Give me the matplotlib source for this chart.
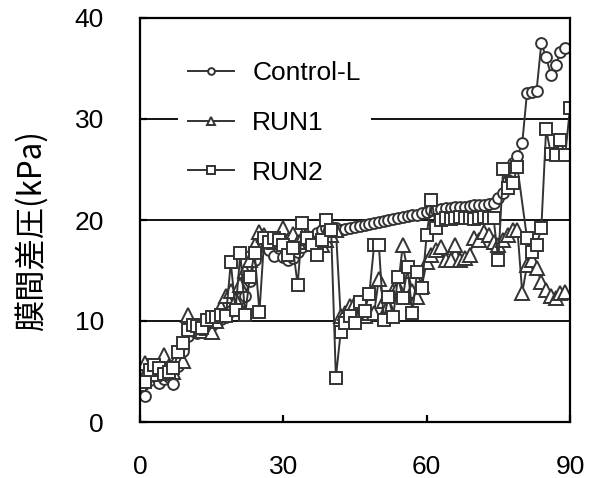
import matplotlib
matplotlib.use("Agg")
import matplotlib.pyplot as plt

plt.rcParams['font.family'] = ['Liberation Sans', 'Noto Sans CJK JP', 'DejaVu Sans']

# elapsed days and trans-membrane pressure (kPa)
control_day = list(range(0, 90))
control_kpa = [
    3.3, 2.6, 4.2, 4.6, 3.9, 4.3, 4.5, 3.8, 5.5, 7.0,
    8.5, 9.0, 8.8, 9.0, 9.4, 9.6, 10.0, 10.2, 10.4, 11.0,
    12.0, 12.3, 12.5, 14.0, 16.0, 17.5, 18.0, 17.0, 16.4, 17.2,
    16.3, 16.0, 16.2, 16.8, 17.3, 17.7, 18.2, 18.7, 19.0, 19.2,
    19.3, 19.2, 19.0, 19.1, 19.2, 19.3, 19.4, 19.5, 19.6, 19.7,
    19.8, 19.9, 20.0, 20.1, 20.2, 20.3, 20.4, 20.5, 20.5, 20.7,
    20.8, 21.0, 21.0, 21.1, 21.2, 21.2, 21.3, 21.3, 21.3, 21.4,
    21.5, 21.5, 21.5, 21.6, 21.7, 22.2, 22.7, 24.0, 25.6, 26.3,
    27.6, 32.6, 32.7, 32.8, 37.5, 36.1, 34.4, 35.3, 36.6, 37.0,
]

run1_day = list(range(0, 90))
run1_kpa = [
    4.0, 5.8, 5.5, 4.8, 5.2, 6.6, 5.5, 5.0, 6.5, 6.0,
    10.6, 9.5, 9.2, 9.0, 9.3, 8.9, 10.0, 11.4, 12.5, 13.0,
    12.1, 13.6, 15.0, 16.0, 17.5, 18.8, 18.5, 18.0, 17.8, 18.2,
    19.2, 18.0, 18.6, 17.8, 18.2, 18.5, 17.8, 18.0, 17.5, 18.0,
    18.5, 19.0, 10.5, 10.8, 11.5, 11.8, 11.0, 10.5, 10.8, 10.8,
    14.2, 12.0, 11.5, 13.0, 13.4, 17.5, 15.0, 13.0, 12.4, 13.5,
    15.8, 16.5, 17.0, 17.3, 16.0, 16.0, 17.5, 16.0, 16.2, 16.5,
    18.2, 18.0, 18.8, 18.5, 17.8, 17.5, 18.0, 18.5, 19.0, 19.0,
    12.8, 15.5, 16.0, 15.2, 13.9, 13.1, 12.5, 12.3, 12.8, 12.9,
]

run2_day = list(range(0, 80)) + [81, 82, 83, 84, 85, 86, 87, 88, 89, 90]
run2_kpa = [
    3.7, 4.0, 5.1, 5.6, 5.3, 4.8, 5.0, 5.3, 6.9, 7.8,
    9.1, 9.6, 9.5, 9.3, 10.1, 10.4, 10.4, 10.6, 10.5, 15.8,
    11.1, 16.7, 10.6, 14.4, 16.7, 10.9, 18.2, 17.8, 18.2, 18.0,
    17.5, 16.5, 17.2, 13.6, 19.7, 18.2, 17.5, 16.5, 18.0, 20.0,
    19.0, 4.4, 8.9, 9.8, 10.5, 9.8, 11.9, 11.0, 12.7, 17.5,
    17.5, 10.1, 12.4, 10.4, 14.4, 12.3, 15.3, 10.8, 14.9, 13.3,
    18.5, 22.0, 19.2, 20.0, 20.2, 20.1, 20.2, 20.3, 20.2, 20.2,
    20.1, 20.2, 20.3, 20.2, 20.2, 16.0, 25.0, 23.2, 23.7, 25.2,
    18.2, 16.8, 17.5, 19.2, 29.0, 26.5, 26.4, 27.9, 26.4, 31.1,
]

x_ticks = [0, 30, 60, 90]
y_ticks = [0, 10, 20, 30, 40]

ink = '#333333'

fig = plt.figure(figsize=(5.94, 4.78), dpi=100)
ax = fig.add_axes([140 / 594, 1 - 422 / 478, 430 / 594, 404 / 478])

ax.plot(control_day, control_kpa, color=ink, lw=1.4, marker='o', ms=7.8,
        mfc='white', mec=ink, mew=1.4, label='Control-L')
ax.plot(run1_day, run1_kpa, color=ink, lw=1.4, marker='^', ms=9.5,
        mfc='white', mec=ink, mew=1.4, label='RUN1')
ax.plot(run2_day, run2_kpa, color=ink, lw=1.4, marker='s', ms=9,
        mfc='white', mec=ink, mew=1.4, label='RUN2')

ax.set_xlim(0, 90)
ax.set_ylim(0, 40)
ax.set_xticks(x_ticks)
ax.set_yticks(y_ticks)
ax.grid(axis='y', color='black', lw=1.3)
ax.set_axisbelow(True)
for s in ax.spines.values():
    s.set_linewidth(1.6)
ax.tick_params(direction='in', length=5, width=1.6, labelsize=19)
ax.tick_params(axis='x', pad=24)
ax.tick_params(axis='y', pad=26)

ax.set_ylabel('膜間差圧(kPa)', fontsize=22.5,
              family=['Noto Sans CJK JP', 'Liberation Sans'])
ax.yaxis.set_label_coords(-0.215, 0.475)

leg = ax.legend(loc='upper left', bbox_to_anchor=(0.088, 0.92), fontsize=19,
                frameon=True, framealpha=1, edgecolor='none', facecolor='white',
                fancybox=False, handlelength=1.72, handletextpad=0.7,
                labelspacing=0.98, markerscale=0.62, borderpad=0.4,
                borderaxespad=0)

fig.savefig('out.png', dpi=100)
